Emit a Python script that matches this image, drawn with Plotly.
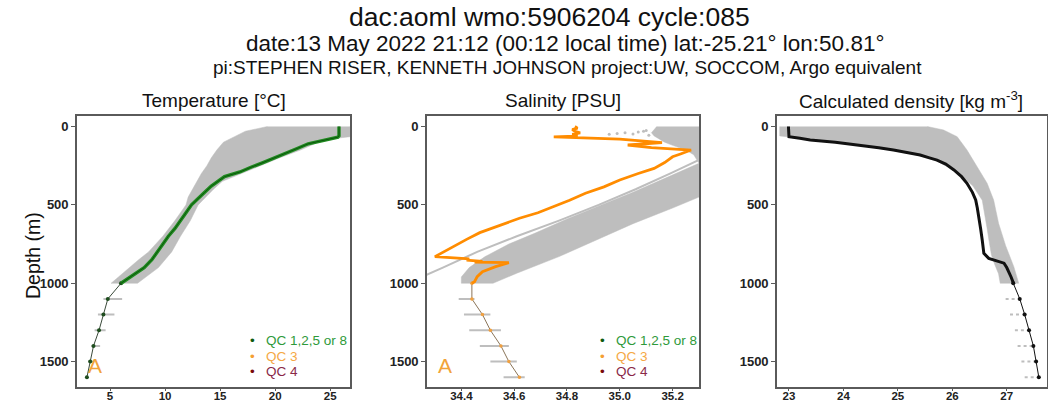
import plotly.graph_objects as go

# ---------------- data ----------------
# Temperature profile (QC 1,2,5,8), 0-1000 m
temp_depth = [0, 20, 40, 60, 68, 75, 90, 110, 140, 170, 200, 230, 260, 290, 320, 350, 380,
              420, 460, 500, 550, 600, 650, 700, 750, 800, 850, 900, 950, 1000]
temp_val = [25.8, 25.8, 25.8, 25.8, 25.7, 25.2, 24.2, 23.0, 22.0, 21.0, 20.0, 18.9, 17.8, 16.8,
            15.4, 14.8, 14.2, 13.6, 13.0, 12.4, 11.9, 11.4, 10.9, 10.3, 9.8, 9.3, 8.8, 8.1, 7.1, 6.0]
deep_depth = [1000, 1100, 1200, 1300, 1400, 1500, 1600]
temp_deep = [6.0, 4.8, 4.4, 4.0, 3.5, 3.2, 2.9]

# Temperature historical envelope
tg_depth = [0, 30, 65, 75, 100, 150, 200, 250, 300, 350, 400, 450, 500, 600, 700, 800, 850, 900, 950, 1000]
tg_lo = [19.3, 17.3, 16.3, 16.0, 15.3, 14.7, 14.2, 13.8, 13.3, 12.9, 12.5, 12.1, 11.9, 10.9, 9.8, 8.5,
         7.6, 6.8, 5.9, 5.1]
tg_hi = [26.8, 26.8, 26.8, 25.6, 23.9, 22.3, 20.4, 18.6, 16.9, 15.2, 14.4, 13.7, 13.0, 12.3, 11.4, 10.6,
         10.0, 9.4, 8.5, 7.5]
bar_depth = [1100, 1200, 1300, 1400, 1500, 1600]
temp_bar_lo = [4.4, 3.9, 3.6, 3.3, 3.0, 2.8]
temp_bar_hi = [6.1, 5.4, 4.6, 4.1, 3.6, 3.0]

# Salinity profile (QC 3)
sal_depth = [0, 10, 20, 30, 40, 50, 58, 62, 66, 70, 80, 103, 118, 135, 150, 175, 193, 230, 267, 300,
             341, 385, 426, 470, 511, 550, 585, 620, 660, 677, 720, 767, 830, 845, 852, 860, 865, 869,
             894, 926, 958, 990, 1000]
sal_val = [34.83, 34.84, 34.82, 34.83, 34.85, 34.82, 34.84, 34.83, 34.75, 34.85, 35.00, 35.16, 35.03,
           35.12, 35.27, 35.23, 35.20, 35.17, 35.13, 35.07, 35.00, 34.94, 34.87, 34.81, 34.75, 34.69,
           34.62, 34.56, 34.50, 34.47, 34.42, 34.37, 34.30, 34.43, 34.42, 34.48, 34.45, 34.58, 34.53,
           34.48, 34.46, 34.45, 34.44]
sal_deep = [34.44, 34.44, 34.48, 34.51, 34.55, 34.58, 34.62]

# Salinity historical data
sg_top_depth = [0, 20, 40, 60, 80, 100, 120, 150, 180, 235]
sg_top_lo = [35.14, 35.13, 35.12, 35.13, 35.15, 35.17, 35.20, 35.25, 35.28, 35.30]
sg_top_hi = [35.36, 35.36, 35.36, 35.36, 35.36, 35.36, 35.36, 35.36, 35.36, 35.36]
sg_dots_depth = [50, 45, 40, 48, 35, 30, 55, 25]
sg_dots_val = [34.96, 34.99, 35.02, 35.05, 35.07, 35.09, 35.11, 35.10]
sg_left_depth = [235, 330, 420, 500, 590, 680, 750, 830, 900, 960, 1000]
sg_left = [35.30, 35.17, 35.05, 34.93, 34.80, 34.68, 34.58, 34.49, 34.43, 34.40, 34.40]
sg_right_depth = [235, 450, 520, 620, 724, 830, 936, 1000]
sg_right = [35.36, 35.30, 35.20, 35.05, 34.91, 34.77, 34.61, 34.52]
sg_line_depth = [170, 213, 300, 400, 500, 600, 700, 800, 900, 960]
sg_line = [35.35, 35.30, 35.19, 35.06, 34.92, 34.77, 34.61, 34.46, 34.33, 34.25]
sal_bar_lo = [34.39, 34.41, 34.43, 34.47, 34.51, 34.56]
sal_bar_hi = [34.45, 34.51, 34.55, 34.58, 34.61, 34.64]

# Density profile
dens_depth = [0, 30, 60, 65, 75, 86, 100, 118, 135, 150, 165, 182, 200, 214, 240, 277, 320, 362, 420,
              469, 520, 575, 650, 724, 780, 809, 841, 851, 856, 872, 900, 926, 960, 996, 1000]
dens_val = [22.99, 22.99, 22.99, 23.0, 23.2, 23.39, 23.85, 24.31, 24.65, 24.92, 25.18, 25.41, 25.58,
            25.72, 25.88, 26.03, 26.17, 26.27, 26.37, 26.43, 26.46, 26.49, 26.52, 26.55, 26.57, 26.58,
            26.67, 26.76, 26.82, 26.95, 27.00, 27.04, 27.08, 27.12, 27.12]
dens_deep = [27.12, 27.24, 27.33, 27.41, 27.49, 27.54, 27.59]
dg_left_depth = [0, 60, 70, 86, 100, 118, 150, 182, 214, 277, 330, 380, 470, 560, 650, 740, 820, 880,
                 940, 1000]
dg_left = [22.83, 22.83, 23.1, 23.35, 23.8, 24.25, 24.85, 25.35, 25.68, 26.02, 26.22, 26.38, 26.55,
           26.60, 26.64, 26.68, 26.72, 26.78, 26.85, 26.88]
dg_right_depth = [0, 22, 65, 150, 256, 362, 469, 617, 760, 894, 1000]
dg_right = [25.54, 25.84, 26.09, 26.27, 26.46, 26.64, 26.76, 26.85, 26.98, 27.13, 27.22]
dens_bar_lo = [26.98, 27.06, 27.15, 27.20, 27.27, 27.33]
dens_bar_hi = [27.25, 27.34, 27.41, 27.50, 27.55, 27.59]

title1 = "dac:aoml wmo:5906204 cycle:085"
title2 = "date:13 May 2022 21:12 (00:12 local time) lat:-25.21° lon:50.81°"
title3 = "pi:STEPHEN RISER, KENNETH JOHNSON project:UW, SOCCOM, Argo equivalent"
panel_titles = ["Temperature [°C]", "Salinity [PSU]", "Calculated density [kg m<sup>-3</sup>]"]
depth_ticks = [0, 500, 1000, 1500]
temp_ticks = [5, 10, 15, 20, 25]
sal_ticks = [34.4, 34.6, 34.8, 35.0, 35.2]
dens_ticks = [23, 24, 25, 26, 27]
legend_labels = ["QC 1,2,5 or 8", "QC 3", "QC 4"]

# ---------------- style ----------------
W, H = 1048, 401
GRAY = '#bebebe'
FRAME = '#5a5a5a'
FONT = 'Liberation Sans, Arial, Helvetica, sans-serif'

fig = go.Figure()


def add_poly(xl, dl, xr, dr, ax):
    xs = list(xl) + list(xr)[::-1]
    ys = list(dl) + list(dr)[::-1]
    fig.add_trace(go.Scatter(x=xs, y=ys, fill='toself', fillcolor=GRAY, mode='lines',
                             line=dict(width=0.5, color=GRAY), xaxis=ax[0], yaxis=ax[1],
                             hoverinfo='skip', showlegend=False))


def add_bars(lo, hi, depths, ax, dash='solid', width=2.0):
    xs, ys = [], []
    for a, b, d in zip(lo, hi, depths):
        xs += [a, b, None]
        ys += [d, d, None]
    fig.add_trace(go.Scatter(x=xs, y=ys, mode='lines', line=dict(color=GRAY, width=width, dash=dash),
                             xaxis=ax[0], yaxis=ax[1], hoverinfo='skip', showlegend=False))


def line(x, y, ax, color, width, mode='lines', msize=3, mcolor=None):
    fig.add_trace(go.Scatter(x=x, y=y, mode=mode, line=dict(color=color, width=width),
                             marker=dict(size=msize, color=mcolor or color),
                             xaxis=ax[0], yaxis=ax[1], hoverinfo='skip', showlegend=False))


A1, A2, A3 = ('x', 'y'), ('x2', 'y2'), ('x3', 'y3')

# Temperature panel
add_poly(tg_lo, tg_depth, tg_hi, tg_depth, A1)
add_bars(temp_bar_lo, temp_bar_hi, bar_depth, A1)
line(temp_deep, deep_depth, A1, '#3a4a3a', 1.0, mode='lines+markers', msize=4, mcolor='#1e4d1e')
line(temp_val, temp_depth, A1, '#1f8a1f', 3.4)
line(temp_val, temp_depth, A1, '#0d560d', 1.0)

# Salinity panel
add_poly(sg_top_lo, sg_top_depth, sg_top_hi, sg_top_depth, A2)
add_poly(sg_left, sg_left_depth, sg_right, sg_right_depth, A2)
fig.add_trace(go.Scatter(x=sg_dots_val, y=sg_dots_depth, mode='markers',
                         marker=dict(size=3, color=GRAY), xaxis='x2', yaxis='y2',
                         hoverinfo='skip', showlegend=False))
line(sg_line, sg_line_depth, A2, GRAY, 2.0)
add_bars(sal_bar_lo, sal_bar_hi, bar_depth, A2)
line(sal_deep, deep_depth, A2, '#8a7458', 1.0, mode='lines+markers', msize=3.5, mcolor='#f0a040')
line(sal_val, sal_depth, A2, '#ff8c00', 2.8)

# Density panel
add_poly(dg_left, dg_left_depth, dg_right, dg_right_depth, A3)
add_bars(dens_bar_lo, dens_bar_hi, bar_depth, A3, dash='dot', width=2.0)
line(dens_deep, deep_depth, A3, '#111111', 1.0, mode='lines+markers', msize=4, mcolor='#111111')
line(dens_val, dens_depth, A3, '#111111', 3.0)

# ---------------- axes ----------------
ydom = [1 - 386.7 / H, 1 - 115.7 / H]
tickfont = dict(family=FONT, size=13, color='#222222', weight='bold')
xtickfont = dict(family=FONT, size=11.5, color='#222222', weight='bold')
yax = dict(range=[1660, -69], tickvals=depth_ticks, ticks='outside', ticklen=4, tickcolor=FRAME,
           showline=True, linecolor=FRAME, linewidth=1.6, mirror=True, showgrid=False,
           zeroline=False, tickfont=tickfont, domain=ydom, automargin=False)
xax = dict(ticks='outside', ticklen=2, tickcolor=FRAME, showline=True, linecolor=FRAME, linewidth=1.6,
           mirror=True, showgrid=False, zeroline=False, tickfont=xtickfont, ticklabelstandoff=-4,
           automargin=False)

fig.update_layout(
    template='none',
    width=W, height=H, margin=dict(l=0, r=0, t=0, b=0, autoexpand=False),
    paper_bgcolor='white', plot_bgcolor='white', showlegend=False,
    xaxis=dict(xax, domain=[77 / W, 350 / W], range=[2.0, 26.8], tickvals=temp_ticks, anchor='y'),
    xaxis2=dict(xax, domain=[427 / W, 699 / W], range=[34.27, 35.30], tickvals=sal_ticks,
                ticktext=['%.1f' % v for v in sal_ticks], anchor='y2'),
    xaxis3=dict(xax, domain=[777 / W, 1047 / W], range=[22.78, 27.74], tickvals=dens_ticks, anchor='y3'),
    yaxis=dict(yax, anchor='x'),
    yaxis2=dict(yax, anchor='x2'),
    yaxis3=dict(yax, anchor='x3'),
)

# ---------------- text ----------------
ann = []
ann.append(dict(text=title1, x=549 / W, y=1 - 16.5 / H, font=dict(family=FONT, size=26.5, color='#111')))
ann.append(dict(text=title2, x=565 / W, y=1 - 43.5 / H, font=dict(family=FONT, size=22.5, color='#111')))
ann.append(dict(text=title3, x=567 / W, y=1 - 67.5 / H, font=dict(family=FONT, size=19, color='#111')))
for t, cx in zip(panel_titles, [213.5, 563, 911]):
    ann.append(dict(text=t, x=cx / W, y=1 - 100 / H, font=dict(family=FONT, size=19, color='#111')))
ann.append(dict(text="Depth (m)", x=33 / W, y=1 - 256 / H, textangle=-90,
                font=dict(family=FONT, size=19.5, color='#111')))
for a in ann:
    a.update(xref='paper', yref='paper', showarrow=False, xanchor='center', yanchor='middle')

# "A" data-mode markers
for ax in ['x', 'x2']:
    ann.append(dict(text='A', xref=ax + ' domain', yref='y' if ax == 'x' else 'y2', x=0.067, y=1525,
                    showarrow=False, xanchor='center', yanchor='middle',
                    font=dict(family=FONT, size=21, color='#f2a33a')))

# QC legends
dot_colors = ['#0f5a0f', '#f5a033', '#7a0a0a']
txt_colors = ['#2e9a3a', '#f5a845', '#8a2848']
for x0 in [248, 598]:
    for i, (lab, dc, tc) in enumerate(zip(legend_labels, dot_colors, txt_colors)):
        yy = 1 - (340.7 + i * 15.5) / H
        ann.append(dict(text='<span style="color:%s">•</span>&nbsp;&nbsp; <span style="color:%s">%s</span>'
                             % (dc, tc, lab),
                        xref='paper', yref='paper', x=x0 / W, y=yy, showarrow=False,
                        xanchor='left', yanchor='middle',
                        font=dict(family=FONT, size=13.5, color=tc)))

fig.update_layout(annotations=ann)
fig.write_html("out.html")
